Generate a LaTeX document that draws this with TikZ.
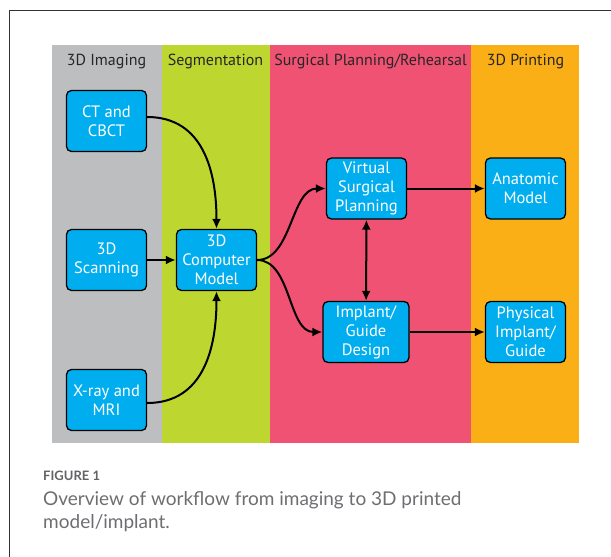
\documentclass[tikz,border=0pt]{standalone}
\usepackage{fontspec}
\setmainfont{PT Sans}
\newfontfamily\legenda{Lato}
\usetikzlibrary{arrows.meta, positioning}

\definecolor{cinza}{HTML}{BCBEC0}
\definecolor{verde}{HTML}{BED730}
\definecolor{rosa}{HTML}{EF5272}
\definecolor{laranja}{HTML}{FBAF17}
\definecolor{azul}{HTML}{00AEEF}
\definecolor{textolegenda}{HTML}{6D6E71}

\tikzset{
	etapa/.style={draw=black, line width=1.3pt, fill=azul, rounded corners=5pt,
		minimum width=80pt, minimum height=61pt, inner sep=1pt, align=center,
		text=white, font=\fontsize{16.5}{19}\selectfont},
	fluxo/.style={-{Latex[length=10pt,width=9pt]}, line width=2pt},
	coluna/.style={anchor=base, text=black!85, font=\fontsize{16}{18}\selectfont}
}

\begin{document}
\begin{tikzpicture}[x=1pt, y=-1pt]
	\useasboundingbox (0,0) rectangle (611,557);
	
	%% Moldura
	\draw [line width=0.9pt, black!80] (9,557) -- (9,10) -- (611,10);
	
	%% Colunas
	\fill [cinza] (52,45) rectangle (162,443);
	\fill [verde] (162,45) rectangle (270,443);
	\fill [rosa] (270,45) rectangle (471,443);
	\fill [laranja] (471,45) rectangle (579,443);
	
	\node [coluna] (tImg) at (106.5,65) {3D Imaging};
	\node [coluna] (tSeg) at (215.5,65) {Segmentation};
	\node [coluna] (tPlan) at (370.5,65) {Surgical Planning/Rehearsal};
	\node [coluna] (tImp) at (525.5,65) {3D Printing};
	
	%% Etapas
	\node [etapa] (ct) at (106.5,121) {CT and\\CBCT};
	\node [etapa] (scan) at (106.5,260) {3D\\Scanning};
	\node [etapa] (xray) at (106.5,400) {X-ray and\\MRI};
	\node [etapa] (model) at (216.5,260) {3D\\Computer\\Model};
	\node [etapa] (vsp) at (366.5,188.5) {Virtual\\Surgical\\Planning};
	\node [etapa, minimum width=86pt] (guide) at (366,332) {Implant/\\Guide\\Design};
	\node [etapa] (anat) at (525.5,188.5) {Anatomic\\Model};
	\node [etapa] (phys) at (525.5,332) {Physical\\Implant/\\Guide};
	
	%% Conexoes
	\draw [fluxo] ([yshift=4pt]ct.east) to [out=0, in=90, looseness=1.1] (model.north);
	\draw [fluxo] (scan) -- (model);
	\draw [fluxo] ([yshift=-3pt]xray.east) to [out=0, in=-90, looseness=1.1] (model.south);
	
	\draw [fluxo] (model.east) to [out=0, in=180, looseness=0.9] (vsp.west);
	\draw [fluxo] (model.east) to [out=0, in=180, looseness=0.9] (guide.west);
	\draw [fluxo, {Latex[length=10pt,width=9pt]}-{Latex[length=10pt,width=9pt]}] (vsp) -- (guide);
	
	\draw [fluxo] (vsp) -- (anat);
	\draw [fluxo] (guide) -- (phys);
	
	%% Legenda
	\node [anchor=base west, inner sep=0pt, text=textolegenda!90!black,
		font=\legenda\bfseries\fontsize{13}{15}\selectfont] (fig) at (43,480) {FIGURE 1};
	\node [anchor=base west, inner sep=0pt, text=textolegenda, align=left,
		font=\legenda\fontsize{19}{23}\selectfont] (leg) at (43,528)
		{Overview of workflow from imaging to 3D printed\\model/implant.};
\end{tikzpicture}
\end{document}
